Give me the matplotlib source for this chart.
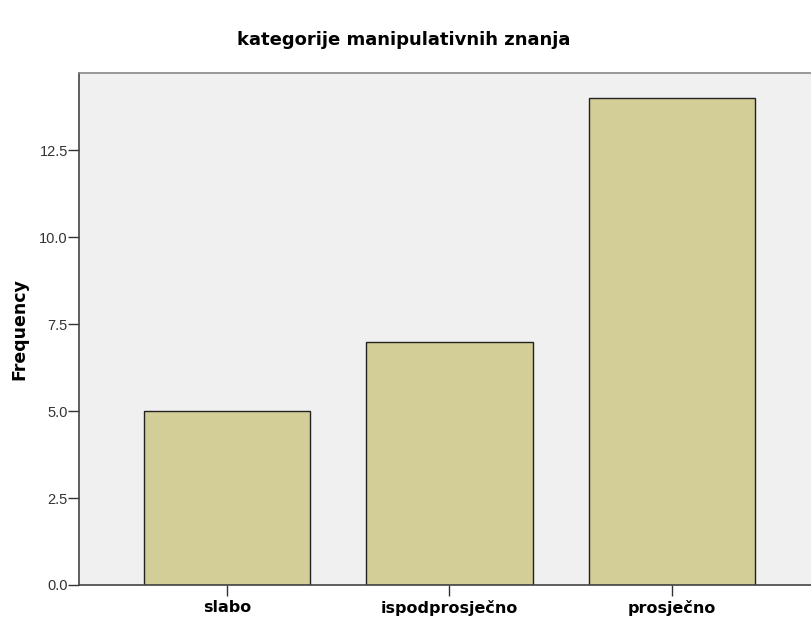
import numpy as np
from matplotlib import pyplot as plt

categories = ['slabo', 'ispodprosječno', 'prosječno']
frequency = [5, 7, 14]
yticks = [0.0, 2.5, 5.0, 7.5, 10.0, 12.5]

fig = plt.figure(figsize=(8.12, 6.21), dpi=100)
ax = fig.add_axes([79 / 812, 36 / 621, 741 / 812, 512 / 621])
ax.set_facecolor('#f0f0f0')

x = np.arange(len(categories))
ax.bar(x, frequency, width=0.75, color='#d3ce97', edgecolor='#222222', linewidth=1.0, zorder=2)

ax.set_xlim(-0.665, 2.665)
ax.set_ylim(0, 14.72)
ax.set_xticks(x)
ax.set_xticklabels(categories, fontsize=11.5, fontweight='bold')
ax.set_yticks(yticks)
ax.set_yticklabels([f'{v:.1f}' for v in yticks], fontsize=10.5, family='Liberation Sans', color='#333333')
ax.tick_params(axis='y', length=8, width=1, color='#333333', pad=0)
ax.tick_params(axis='x', length=8, width=1, color='#333333', pad=3)

for side in ['left', 'bottom']:
    ax.spines[side].set_color('#444444')
    ax.spines[side].set_linewidth(1.2)
for side in ['top', 'right']:
    ax.spines[side].set_color('#888888')
    ax.spines[side].set_linewidth(1.2)

ax.set_ylabel('Frequency', fontsize=12.5, fontweight='bold')
ax.yaxis.set_label_coords(-0.068, 0.5)
fig.text(0.497, 1 - 40 / 621, 'kategorije manipulativnih znanja', ha='center', va='center',
         fontsize=13, fontweight='bold')

plt.savefig('out.png', dpi=100)
